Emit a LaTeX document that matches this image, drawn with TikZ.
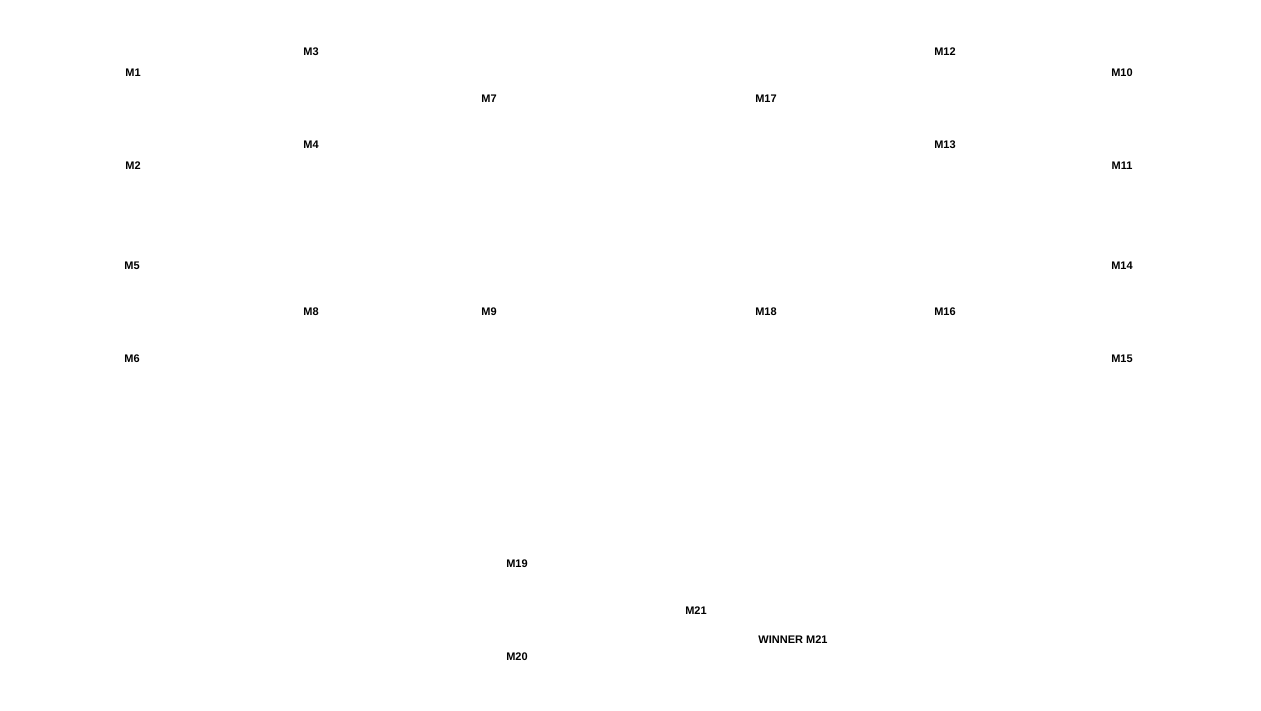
\documentclass[tikz,border=0pt]{standalone}
\usepackage{fontspec}
\setmainfont{Liberation Sans}
\begin{document}
\begin{tikzpicture}[x=1pt,y=-1pt,lbl/.style={inner sep=0pt,font=\bfseries\fontsize{11}{13}\selectfont}]
\useasboundingbox (0,0) rectangle (1261,711);
\node[lbl] (m1) at (133,73) {M1};
\node[lbl] (m2) at (133,166) {M2};
\node[lbl] (m3) at (311,52) {M3};
\node[lbl] (m4) at (311,145) {M4};
\node[lbl] (m5) at (132,266) {M5};
\node[lbl] (m6) at (132,359) {M6};
\node[lbl] (m7) at (489,99) {M7};
\node[lbl] (m8) at (311,312) {M8};
\node[lbl] (m9) at (489,312) {M9};
\node[lbl] (m10) at (1122,73) {M10};
\node[lbl] (m11) at (1122,166) {M11};
\node[lbl] (m12) at (945,52) {M12};
\node[lbl] (m13) at (945,145) {M13};
\node[lbl] (m14) at (1122,266) {M14};
\node[lbl] (m15) at (1122,359) {M15};
\node[lbl] (m16) at (945,312) {M16};
\node[lbl] (m17) at (766,99) {M17};
\node[lbl] (m18) at (766,312) {M18};
\node[lbl] (m19) at (517,564) {M19};
\node[lbl] (m20) at (517,657) {M20};
\node[lbl] (m21) at (696,611) {M21};
\node[lbl] (win) at (793,640) {WINNER M21};
\end{tikzpicture}
\end{document}
